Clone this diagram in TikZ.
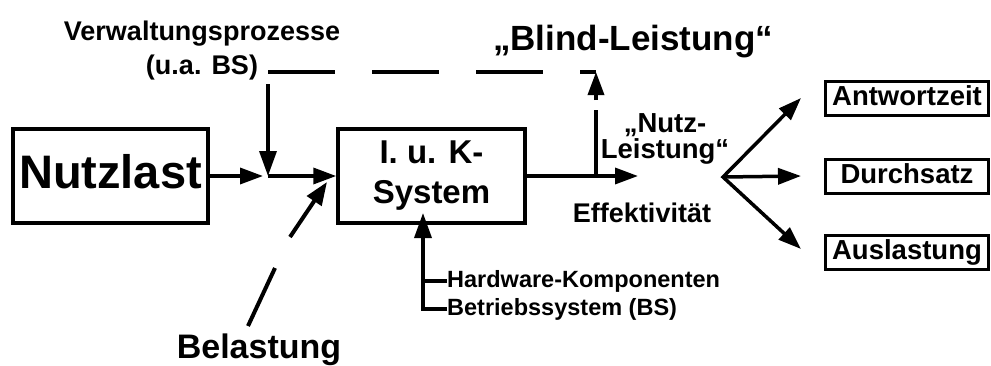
\documentclass[tikz,border=0pt]{standalone}
\usepackage{fontspec}
\setmainfont{Liberation Sans}
\usetikzlibrary{arrows.meta,positioning}
\newcommand{\fsz}[2]{\fontsize{#1}{#2}\selectfont\bfseries}
\tikzset{
  blk/.style={draw=black,line width=3.5pt,inner sep=0pt},
  res/.style={draw=black,line width=3pt,inner sep=0pt,minimum width=163pt,
    minimum height=34pt,text height=20pt,text depth=6pt,font=\fsz{27.5}{30}},
  lbl/.style={inner sep=0pt,align=center},
  ln/.style={line width=3.5pt},
  flow/.style={ln,-{Triangle[length=23pt,width=16pt]}},
}

\begin{document}
\begin{tikzpicture}[x=1pt,y=-1pt]
\useasboundingbox (0,0) rectangle (991,365);
% blocks
\node[blk,minimum width=195pt,minimum height=94pt,text height=34pt,text depth=10pt,
  font=\fsz{47}{50}] (nutzlast) at (110.5,176) {Nutzlast};
\node[blk,lbl,minimum width=187pt,minimum height=94pt,font=\fsz{33}{40}] (iuk) at (431.5,176) {I. u. K-\\System};
\node[res] (antwort) at (907,98) {Antwortzeit};
\node[res] (durchsatz) at (907,176) {Durchsatz};
\node[res] (auslast) at (907,252) {Auslastung};
% labels (base = last line)
\node[lbl,anchor=base,font=\fsz{27}{34}] (verw) at (202,74) {Verwaltungsprozesse\\(u.a. BS)};
\node[lbl,anchor=base,font=\fsz{35}{40}] (blind) at (633,50) {„Blind-Leistung“};
\node[lbl,anchor=base,font=\fsz{27.5}{26}] (nutzl) at (665,158) {„Nutz-\\Leistung“};
\node[lbl,anchor=base,font=\fsz{27}{30}] (effekt) at (642,222) {Effektivität};
\node[lbl,anchor=base,font=\fsz{34}{40}] (belast) at (259,358) {Belastung};
\node[lbl,anchor=base west,font=\fsz{23.5}{28}] (hw) at (447,287) {Hardware-Komponenten};
\node[lbl,anchor=base west,font=\fsz{23.5}{28}] (bs) at (447,315) {Betriebssystem (BS)};
% points on the flow
\coordinate (junc) at (268,176);
\coordinate (vtop) at (268,84);
\coordinate (dashL) at (268,72);
\coordinate (dashR) at (596,72);
\coordinate (split) at (596,176);
\coordinate (outtip) at (638,176);
\coordinate (fan) at (723,177);
\coordinate (hwtip) at (423,213);
\coordinate (bl1) at (248,326);
\coordinate (bl2) at (275,268);
\coordinate (bl3) at (290,237);
\coordinate (bl4) at (327,182);
% main flow
\draw[flow] (nutzlast.east) -- ([xshift=-5pt]junc);
\draw[flow] (junc) -- (iuk.west);
\draw[flow,-{Triangle[length=25pt,width=17pt]}] (vtop) -- (junc);
\draw[flow] (iuk.east) -- (outtip);
% overhead loop
\draw[ln,dash pattern=on 67pt off 37pt] (dashL) -- (dashR);
\draw[flow,dash pattern=on 66pt off 10pt] (split) -- (dashR);
% load arrow
\draw[line width=4pt] (bl1) -- (bl2);
\draw[line width=4pt,-{Triangle[length=23pt,width=17pt]}] (bl3) -- (bl4);
% system components
\draw[flow,-{Triangle[length=25pt,width=17pt]}] (bs.west) -| (hwtip);
\draw[ln] (hw.west) -- (hw.west -| hwtip);
% measures
\draw[ln,{Triangle[length=23pt,width=16pt]}-{Triangle[length=23pt,width=16pt]}]
  ([xshift=-23pt]antwort.west) -- (fan) -- ([xshift=-23pt,yshift=3pt]auslast.west);
\draw[flow] (fan) -- ([xshift=-23pt]durchsatz.west);
\end{tikzpicture}
\end{document}
